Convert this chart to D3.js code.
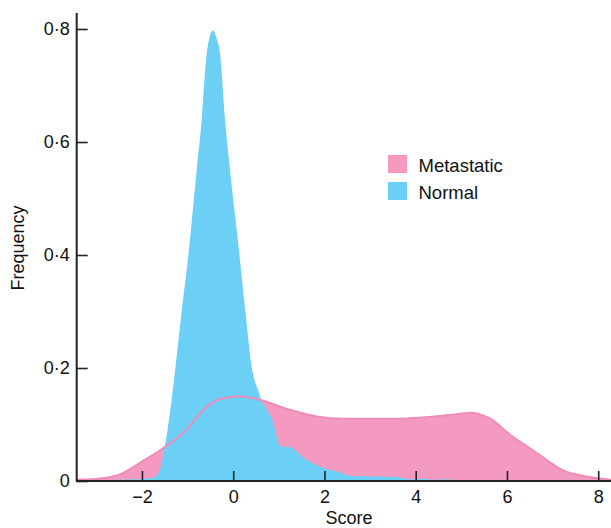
<!DOCTYPE html>
<html>
<head>
<meta charset="utf-8">
<script src="https://cdn.jsdelivr.net/npm/d3@7"></script>
<style>
  body { margin: 0; background: #fff; }
  text { font-family: "Liberation Sans", Arial, sans-serif; fill: #111; }
</style>
</head>
<body>
<div id="chart"></div>
<script>
'use strict';

// density of scores
var normalX = [-2.92, -2.5, -2.1, -1.9, -1.72, -1.61, -1.5, -1.43, -1.35, -1.28, -1.13, -0.97, -0.8, -0.69, -0.58, -0.52, -0.445, -0.37, -0.29, -0.18, -0.07, 0.125, 0.256, 0.43, 0.55, 0.62, 0.75, 0.87, 0.95, 1.02, 1.1, 1.2, 1.3, 1.45, 1.52, 1.7, 1.99, 2.3, 2.62, 3.1, 3.6, 3.87, 4.16, 4.4, 4.57, 4.8, 5.07]
var normalY = [0.001, 0.002, 0.003, 0.004, 0.007, 0.019, 0.06, 0.096, 0.143, 0.191, 0.300, 0.409, 0.55, 0.639, 0.757, 0.785, 0.798, 0.785, 0.757, 0.639, 0.55, 0.409, 0.308, 0.191, 0.16, 0.143, 0.125, 0.105, 0.08, 0.062, 0.06, 0.061, 0.058, 0.048, 0.043, 0.033, 0.023, 0.016, 0.009, 0.008, 0.007, 0.003, 0.004, 0.002, 0.003, 0.002, 0.001]

var metaX = [-3.43, -2.85, -2.5, -2.01, -1.54, -1.1, -0.51, -0.29, 0.147, 0.62, 1.24, 1.83, 2.4, 3.5, 4.53, 4.9, 5.19, 5.62, 6.13, 6.65, 7.22, 7.81, 8.28]
var metaY = [0.002, 0.005, 0.011, 0.034, 0.058, 0.085, 0.136, 0.145, 0.150, 0.143, 0.126, 0.114, 0.110, 0.110, 0.115, 0.118, 0.121, 0.111, 0.078, 0.050, 0.019, 0.007, 0.002]

var xTicks = [-2, 0, 2, 4, 6, 8]
var yTicks = [0, 0.2, 0.4, 0.6, 0.8]
var seriesNames = ['Metastatic', 'Normal']
var colors = ['#f49ac1', '#6bcff6']

var svg = d3.select('#chart').append('svg')
  .attr('width', 611).attr('height', 528)

var x = d3.scaleLinear().domain([-3.43, 8.28]).range([76.7, 611])
var y = d3.scaleLinear().domain([0, 0.8]).range([481, 29])

var meta = metaX.map(function(d, i) { return [d, metaY[i]] })
var normal = normalX.map(function(d, i) { return [d, normalY[i]] })

var area = d3.area()
  .x(function(d) { return x(d[0]) })
  .y0(y(0))
  .y1(function(d) { return y(d[1]) })
  .curve(d3.curveMonotoneX)

var line = d3.line()
  .x(function(d) { return x(d[0]) })
  .y(function(d) { return y(d[1]) })
  .curve(d3.curveMonotoneX)

//pink first, blue over it, then the pink outline on top
svg.append('path').datum(meta).attr('d', area).attr('fill', colors[0])
svg.append('path').datum(normal).attr('d', area).attr('fill', colors[1])
svg.append('path').datum(meta).attr('d', line)
  .attr('fill', 'none').attr('stroke', '#f08cb9').attr('stroke-width', 2)

//axes, ticks point inwards
var xAxis = d3.axisBottom(x).tickValues(xTicks).tickSizeInner(-10).tickSizeOuter(0)
  .tickPadding(9)
  .tickFormat(function(d) { return d < 0 ? '\u2212' + Math.abs(d) : d })
var gx = svg.append('g').attr('transform', 'translate(0,' + y(0) + ')').call(xAxis)
gx.select('.domain').remove()
gx.selectAll('line').attr('stroke', '#222').attr('stroke-width', 1.6)
gx.selectAll('text').attr('font-size', 18).attr('fill', '#111')

var yAxis = d3.axisLeft(y).tickValues(yTicks).tickSizeInner(-11).tickSizeOuter(0)
  .tickPadding(7)
  .tickFormat(function(d) { return d === 0 ? '0' : d.toFixed(1).replace('.', '\u00b7') })
var gy = svg.append('g').attr('transform', 'translate(' + x.range()[0] + ',0)').call(yAxis)
gy.select('.domain').remove()
gy.selectAll('line').attr('stroke', '#222').attr('stroke-width', 1.6)
gy.selectAll('text').attr('font-size', 18).attr('fill', '#111')

svg.append('line')
  .attr('x1', x.range()[0]).attr('x2', 611)
  .attr('y1', y(0)).attr('y2', y(0))
  .attr('stroke', '#222').attr('stroke-width', 2)
svg.append('line')
  .attr('x1', x.range()[0]).attr('x2', x.range()[0])
  .attr('y1', y(0) + 1).attr('y2', 13)
  .attr('stroke', '#222').attr('stroke-width', 2)

//axis titles
svg.append('text').attr('x', 349).attr('y', 524)
  .attr('text-anchor', 'middle').attr('font-size', 18).text('Score')
svg.append('text')
  .attr('transform', 'translate(24,248) rotate(-90)')
  .attr('text-anchor', 'middle').attr('font-size', 18).text('Frequency')

//legend
var legend = svg.selectAll('.leg').data(seriesNames)
  .enter()
  .append('g')
  .attr('transform', function(d, i) { return 'translate(388,' + (155 + i * 27) + ')' })
legend.append('rect').attr('width', 19).attr('height', 18)
  .attr('fill', function(d, i) { return colors[i] })
legend.append('text').attr('x', 30.5).attr('y', 16.5).attr('font-size', 18.5)
  .text(function(d) { return d })
</script>
</body>
</html>
